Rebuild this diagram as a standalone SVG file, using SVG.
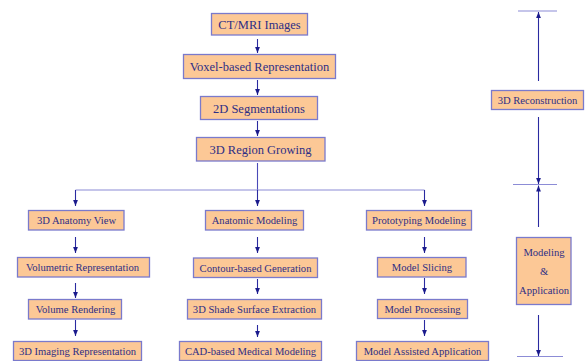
<svg xmlns="http://www.w3.org/2000/svg" width="585" height="361" viewBox="0 0 585 361">
<defs>
<marker id="ah" viewBox="0 0 10 10" refX="10" refY="5" markerWidth="6" markerHeight="6" orient="auto" markerUnits="userSpaceOnUse">
<path d="M0,1 L10,5 L0,9 z" fill="#1a1a8c"/>
</marker>
</defs>
<style>
.box{fill:#fcc896;stroke:#7a7acc;stroke-width:1.3}
.t{font-family:"Liberation Serif","Times New Roman",serif;fill:#2e2e85;text-anchor:middle}
.big{font-size:12.5px}
.sm{font-size:10.6px}
.c{stroke:#4a4ab8;stroke-width:1.1;fill:none}
.a{stroke:#2a2aa0;stroke-width:1.1;fill:none;marker-end:url(#ah)}
.g{stroke:#8c8cd6;stroke-width:1.1;fill:none}
</style>
<rect width="585" height="361" fill="#ffffff"/>
<g id="connectors">
<line class="a" x1="257.5" y1="39" x2="257.5" y2="53"/>
<line class="a" x1="257.5" y1="80" x2="257.5" y2="95"/>
<line class="a" x1="257.5" y1="121" x2="257.5" y2="136"/>
<line class="c" x1="257.5" y1="163" x2="257.5" y2="190"/>
<line class="g" x1="75.5" y1="190" x2="424.5" y2="190"/>
<line class="a" x1="75.5" y1="190" x2="75.5" y2="206"/>
<line class="a" x1="257.5" y1="190" x2="257.5" y2="206"/>
<line class="a" x1="424.5" y1="190" x2="424.5" y2="206"/>
<line class="a" x1="75.5" y1="237" x2="75.5" y2="253"/>
<line class="a" x1="75.5" y1="283" x2="75.5" y2="298"/>
<line class="a" x1="75.5" y1="320" x2="75.5" y2="336"/>
<line class="a" x1="257.5" y1="237" x2="257.5" y2="253"/>
<line class="a" x1="257.5" y1="279" x2="257.5" y2="294"/>
<line class="a" x1="257.5" y1="325" x2="257.5" y2="337"/>
<line class="a" x1="424.5" y1="237" x2="424.5" y2="253"/>
<line class="a" x1="424.5" y1="278" x2="424.5" y2="294"/>
<line class="a" x1="424.5" y1="320" x2="424.5" y2="336"/>
<line class="g" x1="518" y1="11" x2="557" y2="11"/>
<line class="a" x1="538.5" y1="81" x2="538.5" y2="12"/>
<line class="a" x1="538.5" y1="117" x2="538.5" y2="184"/>
<line class="g" x1="513" y1="184.5" x2="557" y2="184.5"/>
<line class="a" x1="538.5" y1="227" x2="538.5" y2="185.5"/>
<line class="a" x1="538.5" y1="315" x2="538.5" y2="356"/>
<line class="g" x1="517" y1="356.5" x2="563" y2="356.5"/>
</g>
<g id="n-ctmri"><rect class="box" x="211.5" y="13.5" width="96" height="21.5"/><text class="t big" x="259.5" y="29">CT/MRI Images</text></g>
<g id="n-voxel"><rect class="box" x="183.5" y="54.5" width="152" height="24"/><text class="t big" x="259.5" y="71">Voxel-based Representation</text></g>
<g id="n-2dseg"><rect class="box" x="200.5" y="96.5" width="117" height="23"/><text class="t big" x="259" y="112.5">2D Segmentations</text></g>
<g id="n-3dregion"><rect class="box" x="196.5" y="137.5" width="128.5" height="23.5"/><text class="t big" x="260.5" y="154">3D Region Growing</text></g>
<g id="n-anatview"><rect class="box" x="28.5" y="210.5" width="95.5" height="19.5"/><text class="t sm" x="76.5" y="224">3D Anatomy View</text></g>
<g id="n-volrep"><rect class="box" x="17.5" y="257.5" width="132" height="19.5"/><text class="t sm" x="82.5" y="271">Volumetric Representation</text></g>
<g id="n-volrend"><rect class="box" x="28.5" y="299.5" width="93" height="19.5"/><text class="t sm" x="75.5" y="313">Volume Rendering</text></g>
<g id="n-3dimg"><rect class="box" x="13.5" y="341.5" width="128" height="19"/><text class="t sm" x="77.5" y="355">3D Imaging Representation</text></g>
<g id="n-anatmod"><rect class="box" x="205.5" y="210.5" width="98" height="19.5"/><text class="t sm" x="254.5" y="224">Anatomic Modeling</text></g>
<g id="n-contour"><rect class="box" x="193.5" y="258" width="124" height="19.5"/><text class="t sm" x="255.5" y="271.5">Contour-based Generation</text></g>
<g id="n-shade"><rect class="box" x="187.5" y="299.5" width="134" height="19.5"/><text class="t sm" x="254.5" y="313">3D Shade Surface Extraction</text></g>
<g id="n-cad"><rect class="box" x="179.5" y="341.5" width="142" height="19"/><text class="t sm" x="250.5" y="355">CAD-based Medical Modeling</text></g>
<g id="n-proto"><rect class="box" x="366.5" y="210.5" width="105" height="19.5"/><text class="t sm" x="419" y="224">Prototyping Modeling</text></g>
<g id="n-slice"><rect class="box" x="377.5" y="257.5" width="88.5" height="19.5"/><text class="t sm" x="422" y="271">Model Slicing</text></g>
<g id="n-proc"><rect class="box" x="377.5" y="299.5" width="90" height="19"/><text class="t sm" x="422.5" y="313">Model Processing</text></g>
<g id="n-assist"><rect class="box" x="356.5" y="341.5" width="132" height="19"/><text class="t sm" x="422.5" y="355">Model Assisted Application</text></g>
<g id="n-recon"><rect class="box" x="491.5" y="90.5" width="92" height="19"/><text class="t sm" x="537.5" y="104">3D Reconstruction</text></g>
<g id="n-modapp"><rect class="box" x="516.5" y="237.5" width="54.5" height="67"/><text class="t sm" x="544" y="256">Modeling</text><text class="t sm" x="544" y="275">&amp;</text><text class="t sm" x="544" y="294">Application</text></g>
</svg>
